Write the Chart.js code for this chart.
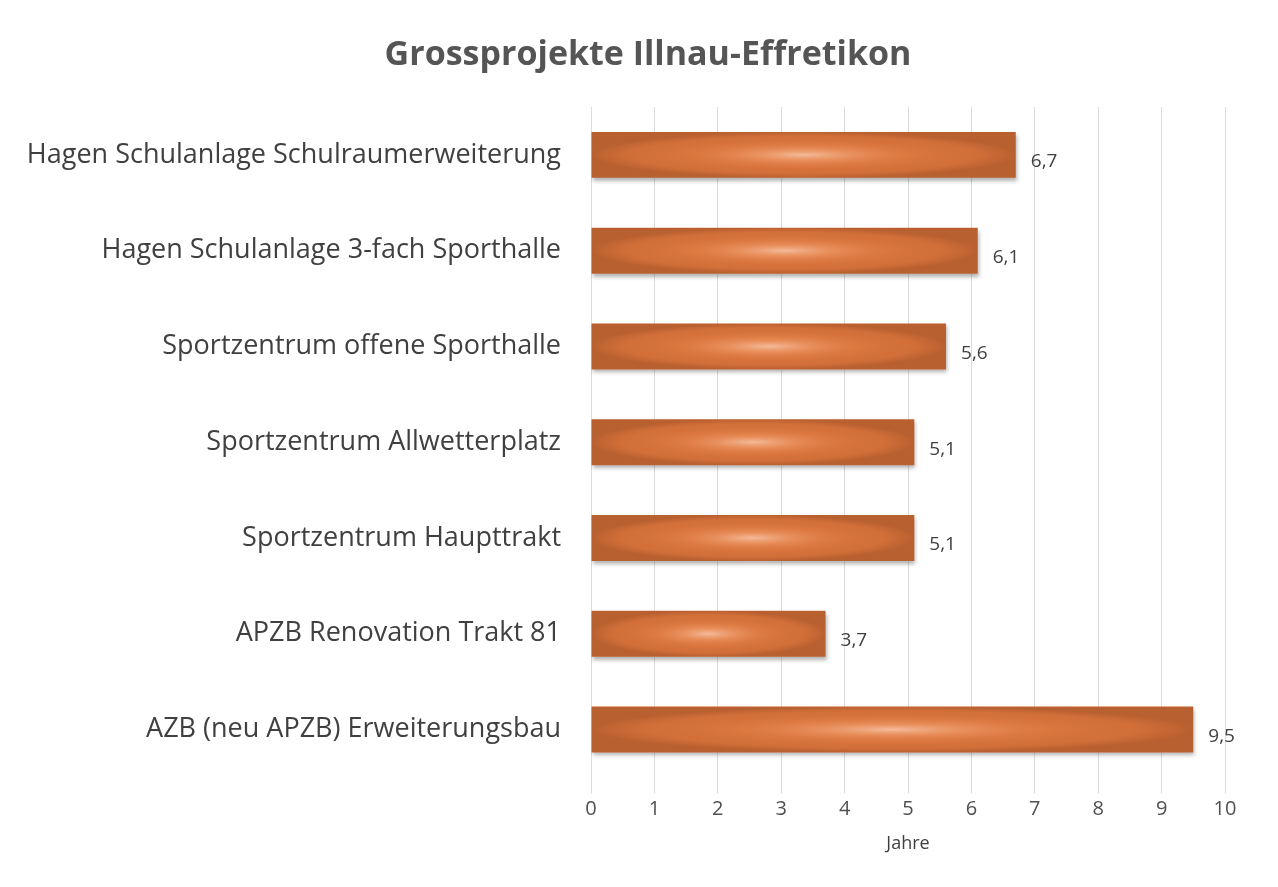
<!DOCTYPE html>
<html>
<head>
<meta charset="utf-8">
<title>Grossprojekte Illnau-Effretikon</title>
<script src="https://cdn.jsdelivr.net/npm/chart.js@4/dist/chart.umd.min.js"></script>
<style>
  html, body { margin: 0; padding: 0; background: #fff; }
  #wrap { position: relative; width: 1278px; height: 887px; }
</style>
</head>
<body>
<div id="wrap"><canvas id="projektChart" width="1278" height="887"></canvas></div>
<script>
'use strict';

var titel = 'Grossprojekte Illnau-Effretikon';
var projekte = [
    'Hagen Schulanlage Schulraumerweiterung',
    'Hagen Schulanlage 3-fach Sporthalle',
    'Sportzentrum offene Sporthalle',
    'Sportzentrum Allwetterplatz',
    'Sportzentrum Haupttrakt',
    'APZB Renovation Trakt 81',
    'AZB (neu APZB) Erweiterungsbau'
];
var jahre = [6.7, 6.1, 5.6, 5.1, 5.1, 3.7, 9.5];
var xTicks = [0, 1, 2, 3, 4, 5, 6, 7, 8, 9, 10];

var fontFam = '"Open Sans", Lato, sans-serif';

// vertical copper gradient for each bar
function barFill(context) {
    var el = context.element;
    var chart = context.chart;
    if (!el || el.y === undefined || !chart.chartArea) return '#d9743c';
    var h = el.height || 46;
    var g = chart.ctx.createLinearGradient(0, el.y - h / 2, 0, el.y + h / 2);
    g.addColorStop(0, '#964d2f');
    g.addColorStop(0.25, '#bd653d');
    g.addColorStop(0.5, '#da7b48');
    g.addColorStop(0.75, '#bd653d');
    g.addColorStop(1, '#8c462b');
    return g;
}

// drop shadow, centre glow, value labels and heading
var barExtras = {
    id: 'barExtras',
    beforeDatasetsDraw: function (chart) {
        var ctx = chart.ctx;
        ctx.save();
        ctx.shadowColor = 'rgba(0,0,0,0.3)';
        ctx.shadowBlur = 4;
        ctx.shadowOffsetY = 3;
        ctx.shadowOffsetX = 1;
    },
    afterDatasetsDraw: function (chart) {
        var ctx = chart.ctx;
        ctx.restore();
        var meta = chart.getDatasetMeta(0);
        meta.data.forEach(function (bar, i) {
            var left = bar.base, right = bar.x;
            var top = bar.y - bar.height / 2;
            var w = right - left, h = bar.height;
            var cx = left + w / 2, cy = bar.y;
            ctx.save();
            ctx.beginPath();
            ctx.rect(left, top, w, h);
            ctx.clip();
            ctx.translate(cx, cy);
            ctx.scale(1, h / w);
            var r = w / 2;
            var g = ctx.createRadialGradient(0, 0, 0, 0, 0, r);
            g.addColorStop(0, 'rgba(250,205,178,0.8)');
            g.addColorStop(0.24, 'rgba(250,175,130,0.45)');
            g.addColorStop(0.5, 'rgba(240,150,100,0.1)');
            g.addColorStop(0.8, 'rgba(90,35,10,0.05)');
            g.addColorStop(1, 'rgba(70,25,5,0.22)');
            ctx.fillStyle = g;
            ctx.fillRect(-r, -r, w, w);
            ctx.restore();

            ctx.save();
            ctx.fillStyle = '#404040';
            ctx.font = '19px ' + fontFam;
            ctx.textAlign = 'left';
            ctx.textBaseline = 'middle';
            ctx.fillText(String(jahre[i]).replace('.', ','), right + 15, cy + 7);
            ctx.restore();
        });
    },
    afterDraw: function (chart) {
        var ctx = chart.ctx;
        ctx.save();
        ctx.fillStyle = '#555555';
        ctx.font = 'bold 34px ' + fontFam;
        ctx.textAlign = 'center';
        ctx.textBaseline = 'middle';
        ctx.fillText(titel, 648, 55);
        ctx.restore();
    }
};

var projektChart = new Chart(document.getElementById('projektChart'), {
    type: 'bar',
    data: {
        labels: projekte,
        datasets: [{
            data: jahre,
            backgroundColor: barFill,
            borderWidth: 0,
            barPercentage: 0.48,
            categoryPercentage: 1
        }]
    },
    options: {
        indexAxis: 'y',
        responsive: false,
        maintainAspectRatio: false,
        animation: false,
        devicePixelRatio: 1,
        layout: { padding: { top: 107, left: 10, right: 53, bottom: 28 } },
        plugins: {
            legend: { display: false },
            tooltip: { enabled: false },
            title: { display: false }
        },
        scales: {
            x: {
                min: 0,
                max: 10,
                afterBuildTicks: function (scale) {
                    scale.ticks = xTicks.map(function (v) { return { value: v }; });
                },
                grid: { color: '#dcdcdc', drawTicks: true, tickLength: 16 },
                border: { display: false },
                ticks: {
                    color: '#505050',
                    font: { family: fontFam, size: 20 },
                    padding: 4
                },
                title: {
                    display: true,
                    text: 'Jahre',
                    color: '#404040',
                    font: { family: fontFam, size: 18 },
                    padding: { top: 8 }
                }
            },
            y: {
                afterFit: function (scale) { scale.width = 581; },
                grid: { display: false },
                border: { display: false },
                ticks: {
                    color: '#404040',
                    font: { family: fontFam, size: 27 },
                    padding: 22
                }
            }
        }
    },
    plugins: [barExtras]
});
</script>
</body>
</html>
